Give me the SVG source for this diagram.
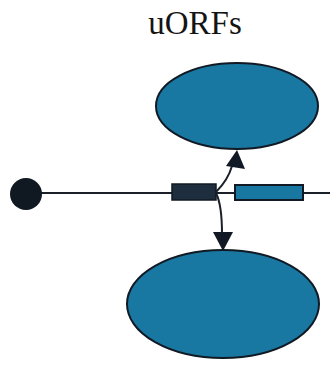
<svg xmlns="http://www.w3.org/2000/svg" width="330" height="370" viewBox="0 0 330 370">
  <style>
    .orf { fill: #1978a2; stroke: #111a24; stroke-width: 2; }
    .wire { fill: none; stroke: #1a1f28; stroke-width: 2; }
    .title { font-family: "Liberation Serif", "Times New Roman", serif; font-size: 33px; fill: #141414; }
  </style>
  <rect width="330" height="370" fill="#ffffff"/>

  <text class="title" x="195" y="34" text-anchor="middle">uORFs</text>

  <!-- transcript line with 5' cap -->
  <g id="mrna">
    <line class="wire" x1="40" y1="193" x2="330" y2="193"/>
    <circle cx="26" cy="194" r="16" fill="#101822"/>
  </g>

  <g id="uorf">
    <rect x="172" y="184" width="44" height="16" fill="#1f2e3e" stroke="#111a24" stroke-width="1.5"/>
  </g>
  <g id="main-orf">
    <rect x="235" y="185" width="68" height="15" class="orf" stroke-width="1.5"/>
  </g>

  <g id="top-product">
    <ellipse class="orf" cx="237" cy="106" rx="81" ry="43"/>
  </g>
  <g id="bottom-product">
    <ellipse class="orf" cx="223" cy="304" rx="96" ry="54"/>
  </g>

  <g id="connectors">
    <path class="wire" d="M216,192 Q228,180 232,166"/>
    <polygon points="237,150 245,169 226,166" fill="#111a24"/>
    <path class="wire" d="M216,193 Q222,205 222,234"/>
    <polygon points="223,251 213,232 233,232" fill="#111a24"/>
  </g>
</svg>
